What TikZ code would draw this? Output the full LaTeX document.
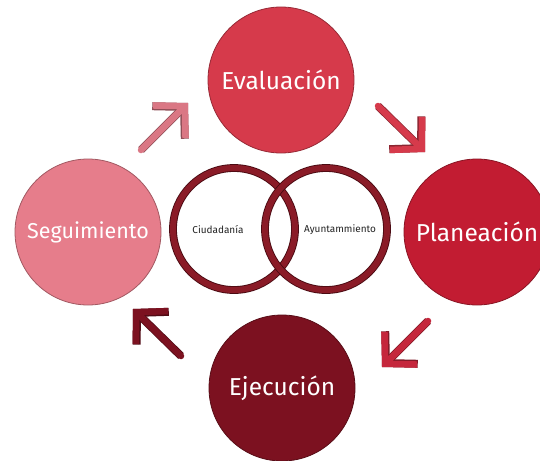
\documentclass[tikz,border=0pt]{standalone}
\usepackage{fontspec}
\setmainfont{Fira Sans}
\usepackage{tikz}
\usetikzlibrary{arrows.meta}
\definecolor{segpink}{HTML}{E67D8B}
\definecolor{evalred}{HTML}{D63A4B}
\definecolor{planred}{HTML}{C21C32}
\definecolor{ejecred}{HTML}{7C1120}
\definecolor{ringred}{HTML}{8A1B27}
\definecolor{ringedge}{HTML}{4A0A12}
\definecolor{textgray}{HTML}{222222}

\begin{document}
\begin{tikzpicture}[x=1pt, y=-1pt,
    etapa/.style = {circle, minimum size=146pt, inner sep=0pt, fill=#1, draw=#1!70!black,
      line width=0.8pt, text=white, font=\fontsize{24.5}{26}\selectfont},
    anillo/.style = {circle, minimum size=122pt, inner sep=0pt, draw=ringedge,
      line width=0.9pt, double=ringred, double distance=6pt},
    nombre/.style = {text=textgray, font=\fontsize{10}{12}\selectfont},
    flecha/.style = {draw=#1, line width=6.5pt, line cap=round,
      -{Straight Barb[length=22pt, width=46pt, line cap=butt, line join=miter]},
      preaction={draw=#1!65!black, line width=8pt}}]
  \useasboundingbox (0,0) rectangle (540,460);
  \clip (0,0) rectangle (540,460);

  % the four stages
  \node[etapa=evalred] (eval) at (281,80) {Evaluación};
  \node[etapa=planred] (plan) at (477,232) {Planeación};
  \node[etapa=ejecred] (ejec) at (282,388) {Ejecución};
  \node[etapa=segpink, font=\fontsize{21.5}{24}\selectfont] (segu) at (88,232) {Seguimiento};

  % the two rings in the middle
  \node[anillo] (ciud) at (234,229) {};
  \node[anillo] (ayun) at (326,229) {};
  \node[nombre] (ciudtxt) at (218,230) {Ciudadanía};
  \node[nombre] (ayuntxt) at (340,230) {Ayuntammiento};

  % arrows between the stages
  \coordinate (f1a) at (141,150); \coordinate (f1b) at (188,103);
  \coordinate (f2a) at (378,106); \coordinate (f2b) at (425,152);
  \coordinate (f3a) at (428,321); \coordinate (f3b) at (382,367);
  \coordinate (f4a) at (181,356); \coordinate (f4b) at (133,309);
  \begin{scope}
    \draw[flecha=segpink!95!black] (f1a) -- (f1b);
    \draw[flecha=evalred] (f2a) -- (f2b);
    \draw[flecha=planred!95!white] (f3a) -- (f3b);
    \draw[flecha=ejecred] (f4a) -- (f4b);
  \end{scope}
\end{tikzpicture}
\end{document}
